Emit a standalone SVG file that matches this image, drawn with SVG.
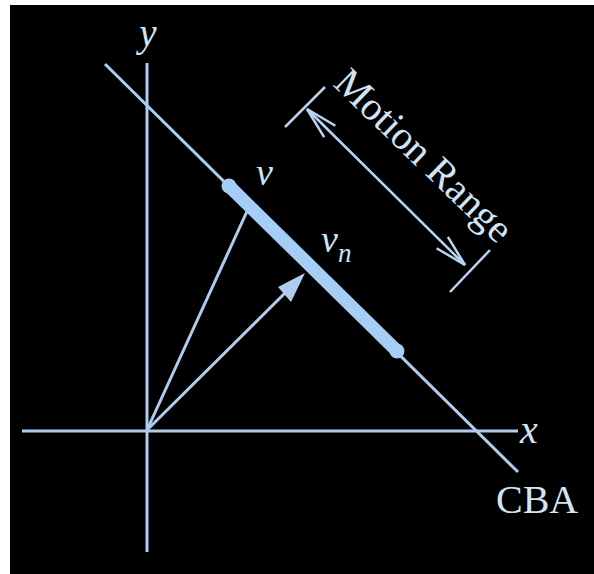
<svg xmlns="http://www.w3.org/2000/svg" width="594" height="574" viewBox="0 0 594 574">
  <defs>
    <style>
      .ln { stroke: #aecdee; stroke-width: 3; fill: none; stroke-linecap: butt; }
      .thin { stroke: #b8d4f0; stroke-width: 2.5; fill: none; }
      .lbl { fill: #d2e4f6; font-family: "Liberation Serif", "Times New Roman", serif; }
      .it { font-style: italic; }
    </style>
    <marker id="openArrow" markerUnits="userSpaceOnUse" viewBox="-34 -12 36 24" refX="0" refY="0" markerWidth="36" markerHeight="24" orient="auto-start-reverse">
      <path d="M-32,-8 L0,0 L-32,8" fill="none" stroke="#b8d4f0" stroke-width="2.5" stroke-linejoin="miter"/>
    </marker>
  </defs>
  <rect x="0" y="0" width="594" height="574" fill="#ffffff"/>
  <rect x="10" y="5" width="584" height="569" fill="#000000"/>

  <g id="axes">
    <line class="ln" x1="147" y1="63" x2="147" y2="552"/>
    <line class="ln" x1="22" y1="431" x2="518" y2="431"/>
    <text class="lbl it" x="148" y="46" font-size="39" text-anchor="middle">y</text>
    <text class="lbl it" x="520" y="443" font-size="40">x</text>
  </g>

  <g id="cba">
    <line class="ln" x1="105" y1="64" x2="518" y2="472"/>
    <text class="lbl" x="496" y="513" font-size="40">CBA</text>
  </g>

  <g id="connectors">
    <line class="ln" x1="147" y1="430" x2="249" y2="207"/>
    <line class="ln" x1="147" y1="430" x2="287" y2="291"/>
    <polygon points="305,273 278,287 291,302" fill="#aecdee"/>
  </g>

  <g id="motion-bar">
    <line x1="229" y1="186" x2="397" y2="351" stroke="#a6cdf5" stroke-width="13" stroke-linecap="round"/>
    <circle cx="229" cy="186" r="7.5" fill="#a6cdf5"/>
    <circle cx="397" cy="351" r="7.5" fill="#a6cdf5"/>
  </g>

  <g id="labels">
    <text class="lbl it" x="256" y="185" font-size="38">v</text>
    <text class="lbl it" x="321" y="252" font-size="38">v<tspan dy="10" font-size="27">n</tspan></text>
  </g>

  <g id="motion-range">
    <line class="thin" x1="285" y1="127" x2="325" y2="87"/>
    <line class="thin" x1="450" y1="292" x2="490" y2="250"/>
    <line class="thin" x1="307" y1="109" x2="465" y2="265" marker-start="url(#openArrow)" marker-end="url(#openArrow)"/>
    <text class="lbl" transform="translate(332,85) rotate(44)" font-size="40">Motion Range</text>
  </g>
</svg>
